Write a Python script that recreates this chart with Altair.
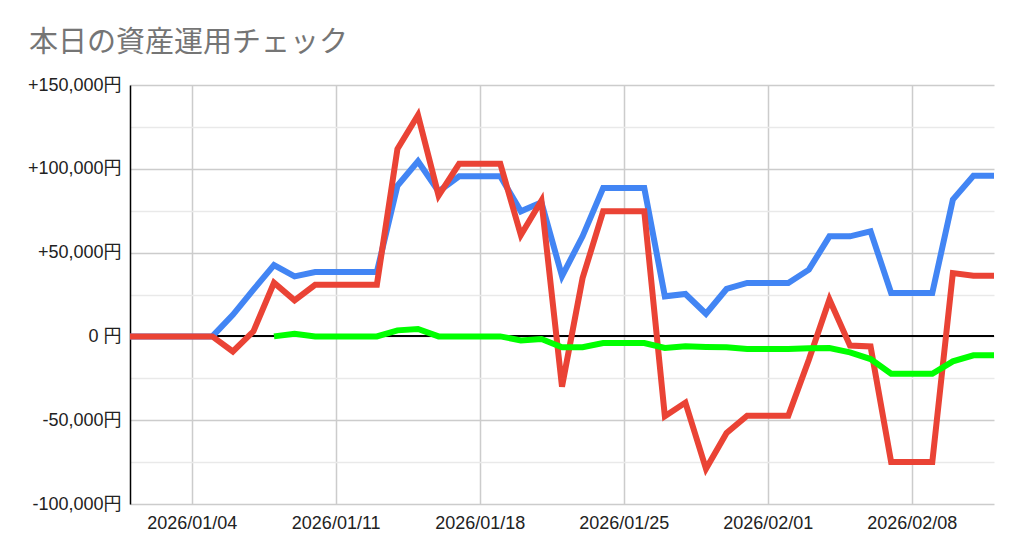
import altair as alt
import pandas as pd

dates = pd.date_range("2026-01-01", "2026-02-12", freq="D").strftime("%Y-%m-%d").tolist()

blue = [0, 0, 0, 0, 0,
        12900, 27900, 42500, 35800, 38400, 38400, 38400, 38400,
        89900, 104500, 86500, 95500, 95500, 95500, 74600, 80000,
        36000, 59700, 88500, 88500, 88500, 23900, 25300, 13500,
        28300, 31900,
        31900, 31900, 39800, 59700, 59700, 62700, 25900, 25900, 25900,
        81600, 95900, 95900]

red = [0, 0, 0, 0, 0,
       -9000, 3000, 32000, 21500, 30800, 30800, 30800, 30800,
       111800, 132000, 84000, 103000, 103000, 103000, 60500, 81000,
       -30000, 34800, 74600, 74600, 74600, -47700, -39500, -79000,
       -57600, -47300,
       -47300, -47300, -13900, 22000, -5500, -6000, -75000, -75000, -75000,
       37800, 36200, 36200]

green = [None] * 7 + [
    0, 1600, 0, 0, 0, 0, 3600, 4400, 0, 0, 0, 0, -2400, -1600,
    -6500, -6500, -4000, -4000, -4000, -6900, -5900, -6300, -6500, -7500,
    -7500, -7500, -7100, -6900, -9500, -13500, -22300, -22300, -22300,
    -14900, -11300, -11300]

series_names = ["blue", "red", "green"]
series_colors = ["#4285F4", "#EA4335", "#00FF00"]
tick_dates = ["2026-01-04", "2026-01-11", "2026-01-18", "2026-01-25", "2026-02-01", "2026-02-08"]
y_ticks = list(range(-100000, 150001, 25000))

rows = []
for name, vals in zip(series_names, [blue, red, green]):
    for d, v in zip(dates, vals):
        if v is not None:
            rows.append({"date": d, "value": v, "series": name})
df = pd.DataFrame(rows)

to_ms = lambda s: int(pd.Timestamp(s, tz="UTC").value // 10**6)

x_enc = alt.X(
    "date:T",
    scale=alt.Scale(type="utc", domain=[to_ms(dates[0]), to_ms(dates[-1])]),
    axis=alt.Axis(
        title=None, labelExpr="utcFormat(datum.value, '%Y/%m/%d')",
        values=[to_ms(t) for t in tick_dates],
        grid=True, gridColor="#cccccc", gridWidth=1.5,
        domain=False, ticks=False, labelPadding=10,
        labelFont="Liberation Sans", labelFontSize=18, labelColor="#222222",
        labelFlush=False, labelOverlap=False,
    ),
)

label_expr = (
    "datum.value % 50000 != 0 ? '' : "
    "(datum.value > 0 ? '+' + format(datum.value, ',') + '円' : "
    "(datum.value == 0 ? '0 円' : '-' + format(abs(datum.value), ',') + '円'))"
)

y_enc = alt.Y(
    "value:Q",
    scale=alt.Scale(domain=[-100000, 150000], nice=False, zero=False),
    axis=alt.Axis(
        title=None, values=y_ticks, labelExpr=label_expr,
        grid=True,
        gridColor={"condition": {"test": "datum.value % 50000 === 0", "value": "#cccccc"}, "value": "#e9e9e9"},
        gridWidth=1.5,
        domain=True, domainColor="#000000", domainWidth=1.5,
        ticks=False, labelPadding=9,
        labelFont="Liberation Sans, Noto Sans CJK JP", labelFontSize=18, labelColor="#222222",
        labelFlush=False, labelOverlap=False,
    ),
)

color_enc = alt.Color("series:N", scale=alt.Scale(domain=series_names, range=series_colors), legend=None)

zero = alt.Chart(df).mark_rule(color="#000000", strokeWidth=1).encode(y=alt.datum(0))

layers = [zero]
for name in series_names:
    layers.append(
        alt.Chart(df).transform_filter(alt.datum.series == name)
        .mark_line(strokeWidth=6, strokeJoin="miter", clip=True)
        .encode(x=x_enc, y=y_enc, color=color_enc)
    )

chart = alt.layer(*layers).properties(
    width=864,
    height=419,
    autosize=alt.AutoSizeParams(type="none"),
    padding={"left": 122, "top": 77, "right": 22, "bottom": 40},
    title=alt.TitleParams(
        "本日の資産運用チェック", anchor="start", frame="group", dx=-101, offset=18,
        font="Noto Sans CJK JP", fontSize=29, fontWeight="normal", color="#757575",
    ),
).configure_view(stroke=None)

chart.save("out.html", embed_options={"renderer": "svg", "actions": False})
